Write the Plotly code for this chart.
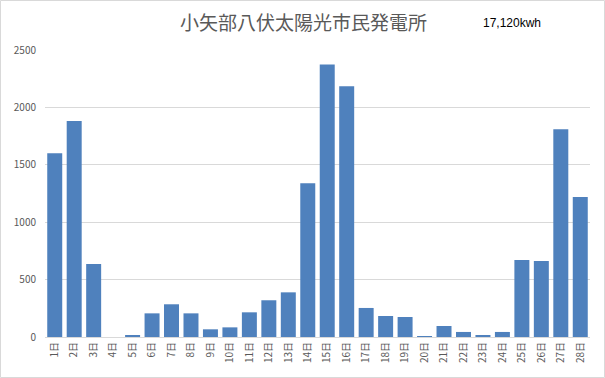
import plotly.graph_objects as go

days = [f"{i}日" for i in range(1, 29)]
values = [1600, 1882, 636, 0, 17, 206, 285, 206, 67, 84, 215, 320, 389, 1339,
          2373, 2184, 253, 183, 174, 8, 96, 44, 17, 44, 671, 662, 1810, 1220]
title_text = "小矢部八伏太陽光市民発電所"
total_text = "17,120kwh"
y_ticks = [0, 500, 1000, 1500, 2000, 2500]

W, H = 605, 378
ml, mr, mt, mb = 45, 15, 50, 41
pw, ph = W - ml - mr, H - mt - mb

fig = go.Figure(go.Bar(x=days, y=values, marker_color="#4F81BD", marker_line_width=0))

font = "Noto Sans CJK JP, sans-serif"
fig.update_layout(
    width=W, height=H,
    margin=dict(l=ml, r=mr, t=mt, b=mb, autoexpand=False),
    paper_bgcolor="white", plot_bgcolor="white",
    bargap=0.23,
    showlegend=False,
    font=dict(family=font, color="#595959", size=10),
    xaxis=dict(tickangle=-90, showgrid=False, showline=True, linecolor="#d9d9d9",
               ticks="", tickfont=dict(size=10, color="#595959"), type="category",
               automargin=False),
    yaxis=dict(range=[0, 2500], tickvals=y_ticks, showgrid=True, gridcolor="#d9d9d9",
               zeroline=False, showline=False, ticks="", ticklabelstandoff=8,
               automargin=False, tickfont=dict(size=10, color="#595959")),
    annotations=[
        dict(text=title_text, xref="paper", yref="paper",
             x=(303 - ml) / pw, y=(H - mb - 22) / ph, xanchor="center", yanchor="middle",
             showarrow=False, font=dict(size=19, color="#595959", family=font)),
        dict(text=total_text, xref="paper", yref="paper",
             x=(512 - ml) / pw, y=(H - mb - 23) / ph, xanchor="center", yanchor="middle",
             showarrow=False, font=dict(size=12, color="#000000", family="Liberation Sans, Arial")),
    ],
    shapes=[
        dict(type="rect", xref="paper", yref="paper",
             x0=(0.5 - ml) / pw, x1=(W - 0.5 - ml) / pw,
             y0=(H - mb - (H - 0.5)) / ph, y1=(H - mb - 0.5) / ph,
             line=dict(color="#d9d9d9", width=1), layer="below"),
    ],
)

fig.write_html("out.html", config={"displayModeBar": False},
               post_script="document.body.style.margin='0';")
